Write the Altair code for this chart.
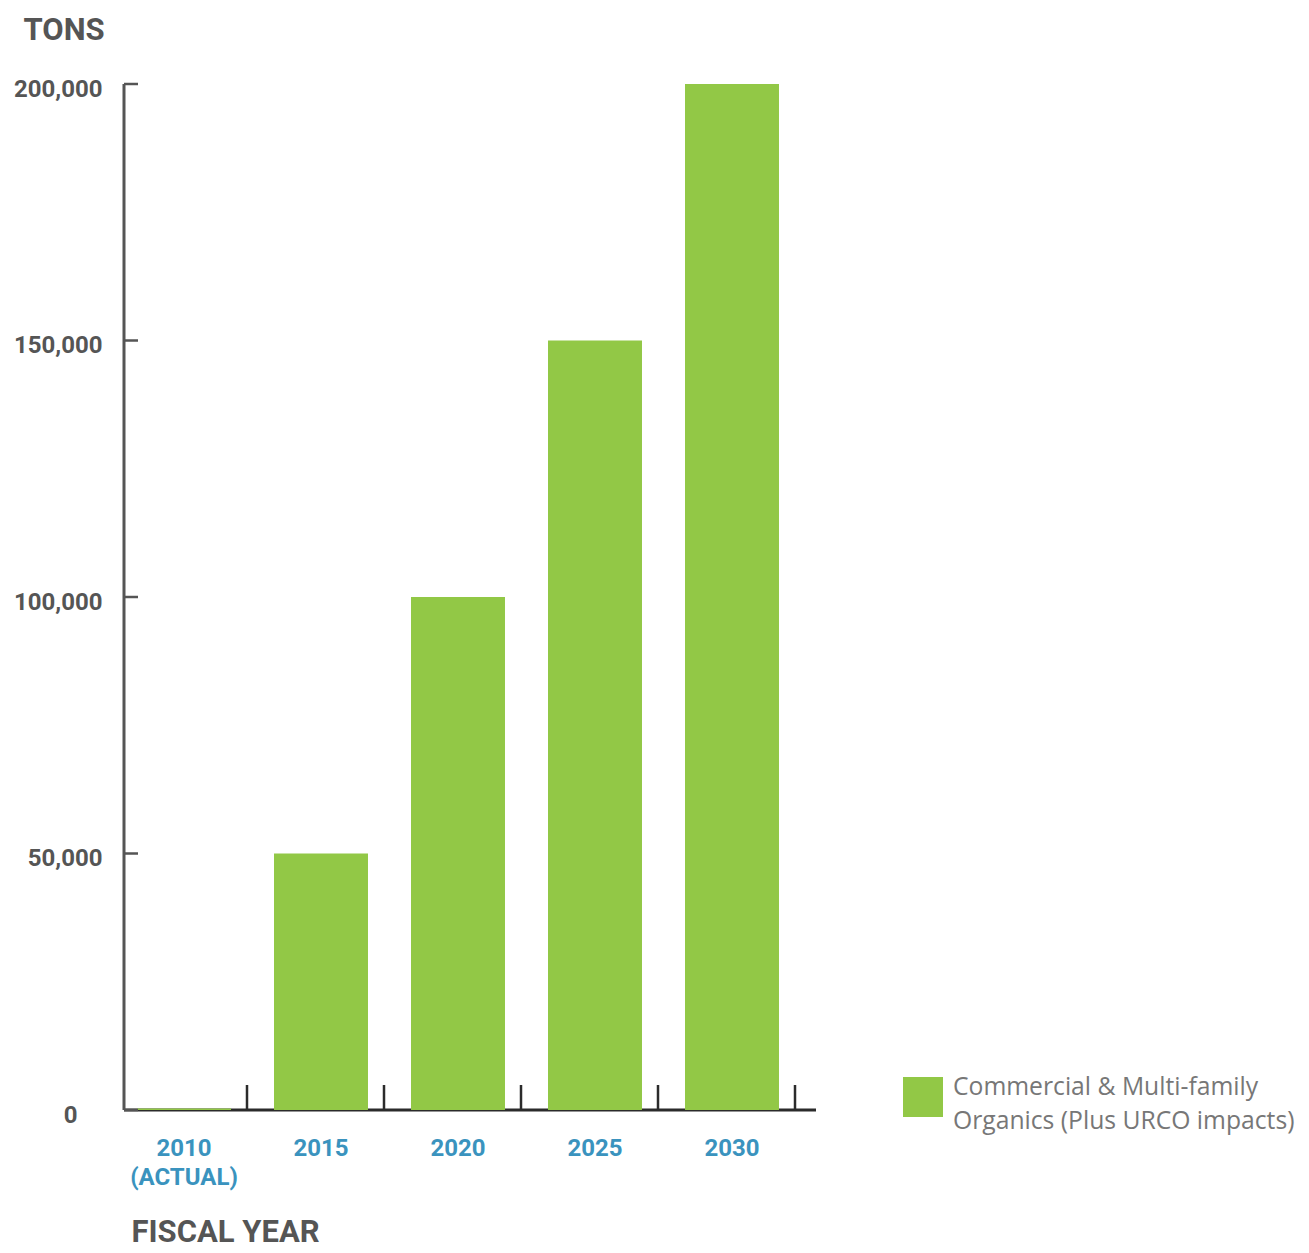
import altair as alt
import pandas as pd

years = ["2010 (ACTUAL)", "2015", "2020", "2025", "2030"]
tons = [300, 50000, 100000, 150000, 200000]
series = "Commercial & Multi-family Organics (Plus URCO impacts)"
legend_lines = ["Commercial & Multi-family", "Organics (Plus URCO impacts)"]
y_ticks = [0, 50000, 100000, 150000, 200000]

W, H = 692, 1026
GREEN = "#92C846"
DARK = "#2b2b2b"
GREY = "#555555"
BLUE = "#3A93BE"

df = pd.DataFrame({"year": years, "tons": tons, "series": [series] * len(years)})
ticks_df = pd.DataFrame({"tons": y_ticks})
yline_df = pd.DataFrame({"tons": [0], "top": [200000]})
base_df = pd.DataFrame({"tons": [0]})
legend_df = pd.DataFrame({"series": [series]})

xscale = alt.Scale(domain=years, range=[-8.5, 676.5], paddingInner=0.314, paddingOuter=0.157)
yscale = alt.Scale(domain=[0, 200000], nice=False, zero=True)

x_axis = alt.Axis(
    title="FISCAL YEAR", domain=False, ticks=False, tickSize=0, grid=False,
    labelAngle=0, labelFont="Roboto", labelFontWeight="bold", labelFontSize=24,
    labelColor=BLUE, labelPadding=26, labelLineHeight=29,
    labelExpr="datum.value == '2010 (ACTUAL)' ? ['2010', '(ACTUAL)'] : datum.value",
    titleFont="Roboto", titleFontWeight="bold", titleFontSize=31, titleColor=GREY,
    titleX=7, titleY=131, titleAlign="left", titleAnchor="start", titleBaseline="alphabetic",
)
y_axis = alt.Axis(
    title="TONS", values=y_ticks, format=",.0f", domain=False, ticks=False, tickSize=0, grid=False,
    labelFont="Roboto", labelFontWeight="bold", labelFontSize=24, labelColor=GREY,
    labelPadding={"condition": {"test": "datum.value == 0", "value": 47}, "value": 22},
    labelOffset=5,
    titleFont="Roboto", titleFontWeight="bold", titleFontSize=31, titleColor=GREY,
    titleAngle=0, titleX=-101, titleY=-45, titleAlign="left", titleBaseline="alphabetic",
)

x_enc = alt.X("year:N", scale=xscale, axis=x_axis, sort=years)
y_enc = alt.Y("tons:Q", scale=yscale, axis=y_axis)

baseline = alt.Chart(base_df).mark_rule(color=DARK, strokeWidth=3).encode(
    y=y_enc, x=alt.value(0), x2=alt.value(W)
)

bars = alt.Chart(df).mark_bar().encode(
    x=x_enc,
    y=y_enc,
    color=alt.Color("series:N", scale=alt.Scale(range=[GREEN]), legend=None),
)

yline = alt.Chart(yline_df).mark_rule(color=GREY, strokeWidth=3).encode(
    y=y_enc, y2="top:Q", x=alt.value(0)
)

yticks = alt.Chart(ticks_df).mark_rule(color=GREY, strokeWidth=2.5).encode(
    y=y_enc, x=alt.value(0), x2=alt.value(14)
)

xticks = alt.Chart(df).mark_rule(color=DARK, strokeWidth=2.5, xOffset=63).encode(
    x=x_enc, y=alt.value(H), y2=alt.value(H - 25)
)

# manual legend (symbol + two-line label)
leg_symbol = alt.Chart(legend_df).mark_square(size=1600, opacity=1).encode(
    x=alt.value(799), y=alt.value(1013),
    color=alt.Color("series:N", scale=alt.Scale(range=[GREEN]), legend=None),
)
leg_text = alt.Chart(legend_df).mark_text(
    align="left", baseline="alphabetic", font="Open Sans", fontSize=24.7,
    color="#777777", lineHeight=34,
).encode(
    x=alt.value(829), y=alt.value(1011), text=alt.value(legend_lines)
)

chart = alt.layer(baseline, bars, yline, yticks, xticks, leg_symbol, leg_text).properties(
    width=W, height=H,
    autosize="none",
    padding={"left": 116, "top": 76, "right": 485, "bottom": 135},
).configure_view(stroke=None)

chart.save("out.html", embed_options={"renderer": "svg", "actions": False})
